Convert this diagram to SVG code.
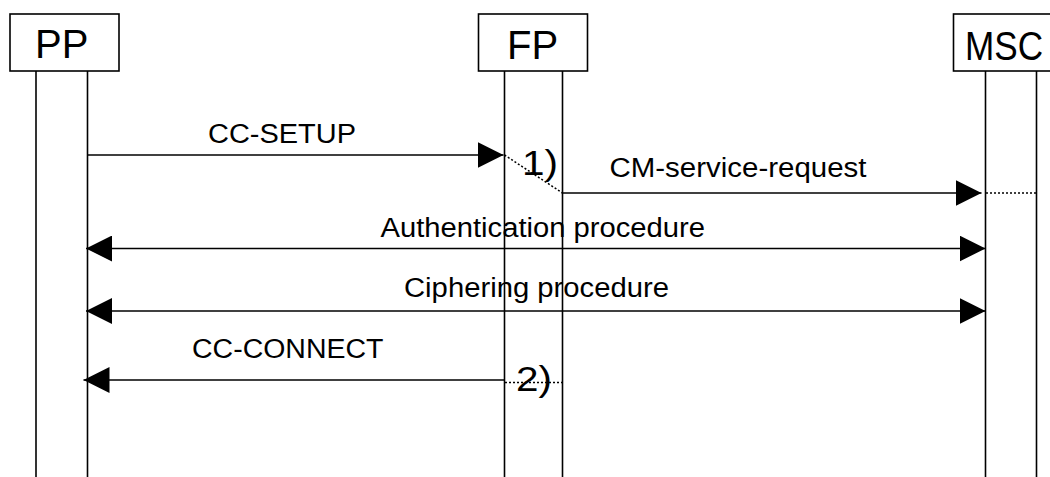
<svg xmlns="http://www.w3.org/2000/svg" width="1050" height="477" viewBox="0 0 1050 477">
<style>
.box{fill:#fff;stroke:#000;stroke-width:1.6}
.life{stroke:#000;stroke-width:1.6;fill:none}
.msg{stroke:#000;stroke-width:1.6;fill:none}
.dot{stroke:#000;stroke-width:1.5;stroke-dasharray:2,2;fill:none}
.hd{font-family:"Liberation Sans",Arial,sans-serif;font-size:40px;fill:#000}
.lb{font-family:"Liberation Sans",Arial,sans-serif;font-size:27px;fill:#000}
.nt{font-family:"Liberation Sans",Arial,sans-serif;font-size:35px;fill:#000}
</style>
<defs>
<marker id="ah" markerUnits="userSpaceOnUse" markerWidth="27" markerHeight="26" refX="26" refY="13" orient="auto-start-reverse" viewBox="0 0 27 26">
<path d="M0,0 L26,13 L0,26 Z" fill="#000"/>
</marker>
</defs>
<rect width="1050" height="477" fill="#fff"/>
<g id="PP">
<rect class="box" x="10" y="14" width="109" height="57"/>
<text class="hd" x="35" y="58">PP</text>
<line class="life" x1="36" y1="71" x2="36" y2="477"/>
<line class="life" x1="87.5" y1="71" x2="87.5" y2="477"/>
</g>
<g id="FP">
<rect class="box" x="478.5" y="14" width="109" height="57"/>
<text class="hd" x="507" y="59">FP</text>
<line class="life" x1="504.5" y1="71" x2="504.5" y2="477"/>
<line class="life" x1="562.5" y1="71" x2="562.5" y2="477"/>
</g>
<g id="MSC">
<rect class="box" x="953.5" y="14" width="109" height="57"/>
<text class="hd" x="965" y="60" textLength="78" lengthAdjust="spacingAndGlyphs">MSC</text>
<line class="life" x1="985.5" y1="71" x2="985.5" y2="477"/>
<line class="life" x1="1036.5" y1="71" x2="1036.5" y2="477"/>
</g>
<g id="connectors">
<line class="msg" x1="87.5" y1="155" x2="503.5" y2="155" marker-end="url(#ah)"/>
<text class="lb" x="208" y="143" textLength="148" lengthAdjust="spacingAndGlyphs">CC-SETUP</text>
<line class="dot" x1="504.5" y1="155" x2="562.5" y2="193"/>
<text class="nt" x="522" y="175" textLength="36" lengthAdjust="spacingAndGlyphs">1)</text>
<line class="msg" x1="562.5" y1="193" x2="981.5" y2="193" marker-end="url(#ah)"/>
<text class="lb" x="609.5" y="177" textLength="257" lengthAdjust="spacingAndGlyphs">CM-service-request</text>
<line class="dot" x1="986" y1="193" x2="1036" y2="193"/>
<line class="msg" x1="86" y1="248.5" x2="985.5" y2="248.5" marker-start="url(#ah)" marker-end="url(#ah)"/>
<text class="lb" x="380.5" y="237" textLength="324.5" lengthAdjust="spacingAndGlyphs">Authentication procedure</text>
<line class="msg" x1="86" y1="311" x2="985.5" y2="311" marker-start="url(#ah)" marker-end="url(#ah)"/>
<text class="lb" x="404" y="297" textLength="265" lengthAdjust="spacingAndGlyphs">Ciphering procedure</text>
<line class="msg" x1="504" y1="380" x2="83.5" y2="380" marker-end="url(#ah)"/>
<text class="lb" x="192" y="358" textLength="191.5" lengthAdjust="spacingAndGlyphs">CC-CONNECT</text>
<line class="dot" x1="505" y1="382.5" x2="562" y2="382.5"/>
<text class="nt" x="516" y="391" textLength="36" lengthAdjust="spacingAndGlyphs">2)</text>
</g>
</svg>
